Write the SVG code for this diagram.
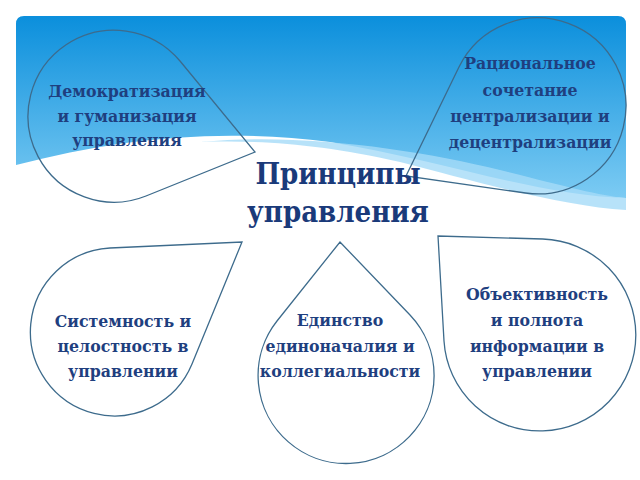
<svg xmlns="http://www.w3.org/2000/svg" width="640" height="480" viewBox="0 0 640 480">
<defs>
<linearGradient id="bg" x1="0" y1="0" x2="0" y2="1">
<stop offset="0" stop-color="#0b8fdc"/><stop offset="1" stop-color="#7ccbf3"/>
</linearGradient>
<style>
.drop{fill:none;stroke:#3d6b8c;stroke-width:1.3}
.t{font-family:"DejaVu Serif Condensed","DejaVu Serif","Liberation Serif",serif;font-stretch:condensed;font-weight:bold;font-size:17.5px;fill:#1f3f7f;text-anchor:middle}
.h{font-family:"DejaVu Serif Condensed","DejaVu Serif","Liberation Serif",serif;font-stretch:condensed;font-weight:bold;font-size:29px;fill:#1a3a7a;text-anchor:middle}
</style>
</defs>
<rect x="0" y="0" width="640" height="480" fill="#fff"/>
<path d="M16,24 Q16,16 24,16 L618,16 Q626,16 626,24 L626,198 C540,196 440,160 330,142 C220,128 120,138 16,165 Z" fill="url(#bg)"/>
<path d="M200,142 C300,132 420,150 500,170 C560,185 600,196 626,198 L626,210 C560,206 470,180 400,162 C320,144 260,140 200,142 Z" fill="#a5dbf7" opacity="0.8"/>
<g id="n1"><path class="drop" d="M180,61 A86,86 0 1 0 146,196 L255,152 Z"/>
<text class="t" x="127" y="97">Демократизация</text><text class="t" x="127" y="122">и гуманизация</text><text class="t" x="127" y="146">управления</text></g>
<g id="n2"><path class="drop" d="M459,67 A88,88 0 1 1 525.5,193 L406,176 Z"/>
<text class="t" x="530" y="69">Рациональное</text><text class="t" x="530" y="96">сочетание</text><text class="t" x="530" y="122">централизации и</text><text class="t" x="530" y="148">децентрализации</text></g>
<g id="title"><text class="h" x="338" y="184">Принципы</text><text class="h" x="338" y="222">управления</text></g>
<g id="n3"><path class="drop" d="M110,248 A84,84 0 1 0 192,364 L242,242 Z"/>
<text class="t" x="123" y="327">Системность и</text><text class="t" x="123" y="352">целостность в</text><text class="t" x="123" y="377">управлении</text></g>
<g id="n4"><path class="drop" d="M277,321 A88,88 0 1 0 410,315 L340,242 Z"/>
<text class="t" x="340" y="326">Единство</text><text class="t" x="340" y="352">единоначалия и</text><text class="t" x="340" y="377">коллегиальности</text></g>
<g id="n5"><path class="drop" d="M444,341 A96,96 0 1 0 542.7,239 L438,236 Z"/>
<text class="t" x="537" y="300">Объективность</text><text class="t" x="537" y="326">и полнота</text><text class="t" x="537" y="352">информации в</text><text class="t" x="537" y="377">управлении</text></g>
<g id="connectors"/>
</svg>
